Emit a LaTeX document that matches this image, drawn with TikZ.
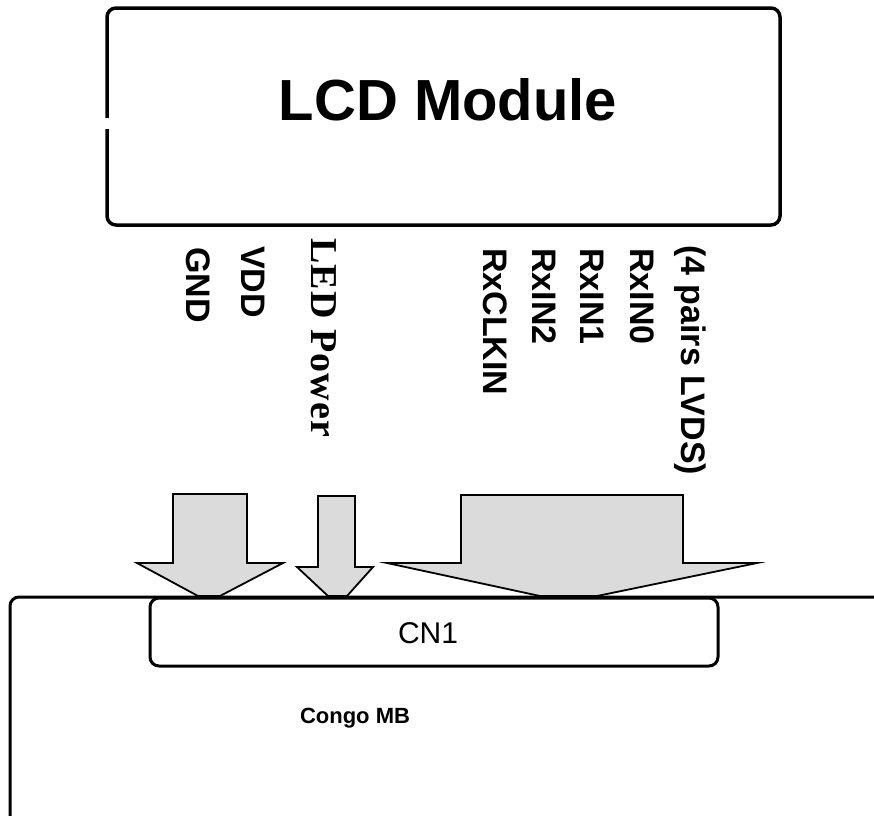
\documentclass[tikz,border=0pt]{standalone}
\usepackage{fontspec}
\setmainfont{Liberation Sans}
\newfontfamily\serifface{Liberation Serif}
\begin{document}
\begin{tikzpicture}[x=1pt,y=-1pt,
  box/.style={draw=black,line width=3pt,rounded corners=9pt,fill=white,inner sep=0pt},
  blockarrow/.style={draw=black,line width=1.8pt,fill=black!14,line join=miter},
  pin/.style={rotate=-90,anchor=base west,inner sep=0pt,font=\fontsize{34}{40}\selectfont\bfseries},
]
\useasboundingbox (0,0) rectangle (874,815);
% LCD module
\node[box,line width=3.5pt,minimum width=673pt,minimum height=217pt] (lcd) at (443.5,116.5) {};
\fill[white] (103,118) rectangle (111,129);
\node[inner sep=0pt,font=\fontsize{58}{64}\selectfont\bfseries] (lcdtitle) at (448,100) {LCD Module};
% pin labels
\node[pin] (gnd) at (186,247) {GND};
\node[pin] (vdd) at (241,246) {VDD};
\node[pin,font=\fontsize{38}{44}\selectfont\bfseries\serifface\addfontfeatures{LetterSpace=3}] (led) at (311,238) {LED Power};
\node[pin] (clk) at (483,248) {RxCLKIN};
\node[pin] (in2) at (532,248) {RxIN2};
\node[pin] (in1) at (580,248) {RxIN1};
\node[pin] (in0) at (630,248) {RxIN0};
\node[pin] (lvds) at (681,245) {(4 pairs LVDS)};
% block arrows
\draw[blockarrow] (137,563) -- (173,563) -- (173,494) -- (247,494) -- (247,563) -- (283,563) -- (220,596) -- (198,596) -- cycle;
\draw[blockarrow] (297,567) -- (318,567) -- (318,496) -- (355,496) -- (355,567) -- (373,567) -- (347,596) -- (328,596) -- cycle;
\draw[blockarrow] (387,563) -- (461,563) -- (461,495) -- (683,495) -- (683,563) -- (757,563) -- (597,596) -- (540,596) -- cycle;
% main board
\draw[line width=3pt,rounded corners=9pt] (890,597) -- (10,597) -- (10,830);
\node[box,minimum width=568pt,minimum height=68pt] (cn1) at (434,632) {};
\node[inner sep=0pt,font=\fontsize{30}{36}\selectfont] (cn1text) at (428,633) {CN1};
\node[inner sep=0pt,font=\fontsize{22}{26}\selectfont\bfseries] (mb) at (355,718) {Congo MB};
\end{tikzpicture}
\end{document}
